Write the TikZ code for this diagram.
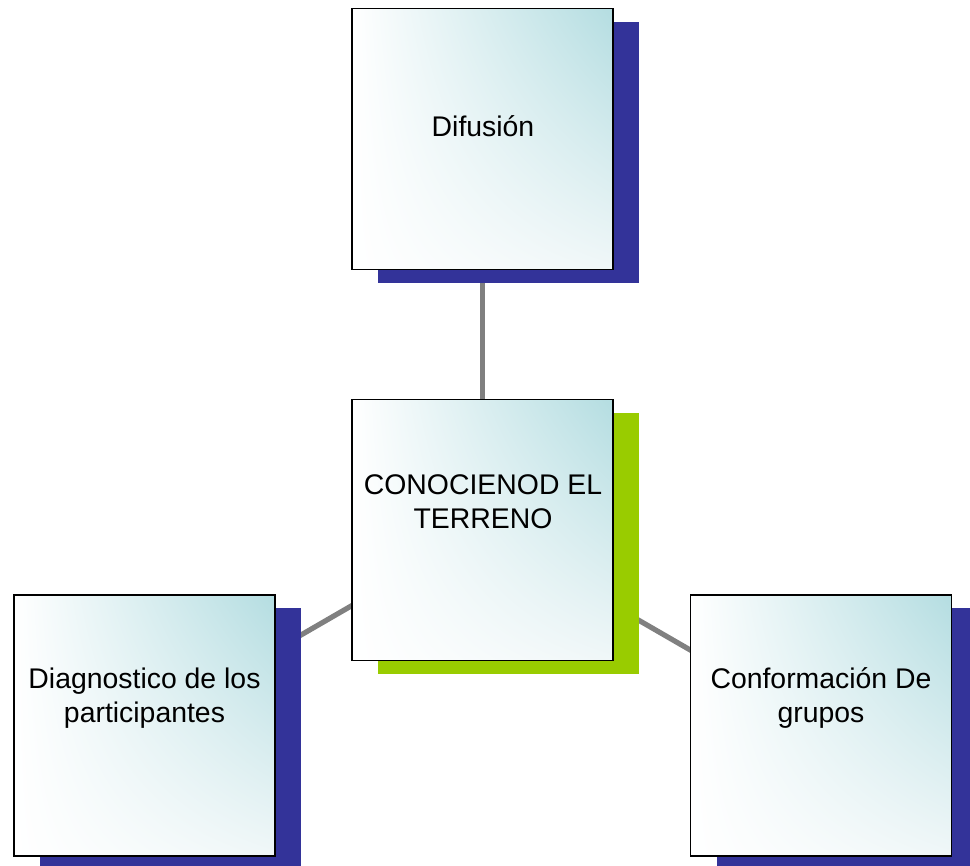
\documentclass[tikz,border=0pt]{standalone}
\usepackage{fontspec}
\setmainfont{Liberation Sans}
\usetikzlibrary{shadows,shadings,backgrounds}

\definecolor{shadowblue}{RGB}{51,51,153}
\definecolor{shadowgreen}{RGB}{153,204,0}
\definecolor{tealtint}{RGB}{180,221,225}
\definecolor{paletint}{RGB}{240,247,248}
\definecolor{linkgray}{RGB}{128,128,128}

\tikzset{every picture/.style={line width=0.75pt}}
\tikzset{
  box/.style={draw=black, line width=1.1pt, minimum width=195.75pt, minimum height=195.75pt,
    inner sep=0pt, upper left=white, upper right=tealtint, lower left=white, lower right=paletint},
  blueshade/.style={drop shadow={shadow xshift=19.5pt, shadow yshift=-9.75pt, fill=shadowblue, opacity=1}},
  greenshade/.style={drop shadow={shadow xshift=19.5pt, shadow yshift=-9.75pt, fill=shadowgreen, opacity=1}},
  link/.style={draw=linkgray, line width=3.9pt},
  lbl/.style={font=\fontsize{21.3}{25.5}\selectfont, align=center, inner sep=0.75pt}
}

\begin{document}
\begin{tikzpicture}[x=0.75pt,y=0.75pt,yscale=-1,xscale=1]
\useasboundingbox (0,0) rectangle (970,865);

%Shape: Rectangle [id:difusion]
\node [box, blueshade] (dif) at (482.5,139) {};
%Shape: Rectangle [id:centro]
\node [box, greenshade] (cen) at (482.5,530) {};
%Shape: Rectangle [id:diagnostico]
\node [box, blueshade] (diag) at (144.5,725.5) {};
%Shape: Rectangle [id:conformacion]
\node [box, blueshade] (conf) at (821,725.5) {};

%Straight Lines
\begin{scope}[on background layer]
\draw [link] (dif.center) -- (cen.center);
\draw [link] (cen.center) -- (diag.center);
\draw [link] (cen.center) -- (conf.center);
\end{scope}

% Text Node
\draw (483,126) node [lbl] (difl) {Difusión};
% Text Node
\draw (483,502) node [lbl] (cenl) {CONOCIENOD EL\\TERRENO};
% Text Node
\draw (144.5,698) node [lbl] (diagl) {Diagnostico de los\\participantes};
% Text Node
\draw (821,698) node [lbl] (confl) {Conformación De\\grupos};

\end{tikzpicture}
\end{document}
